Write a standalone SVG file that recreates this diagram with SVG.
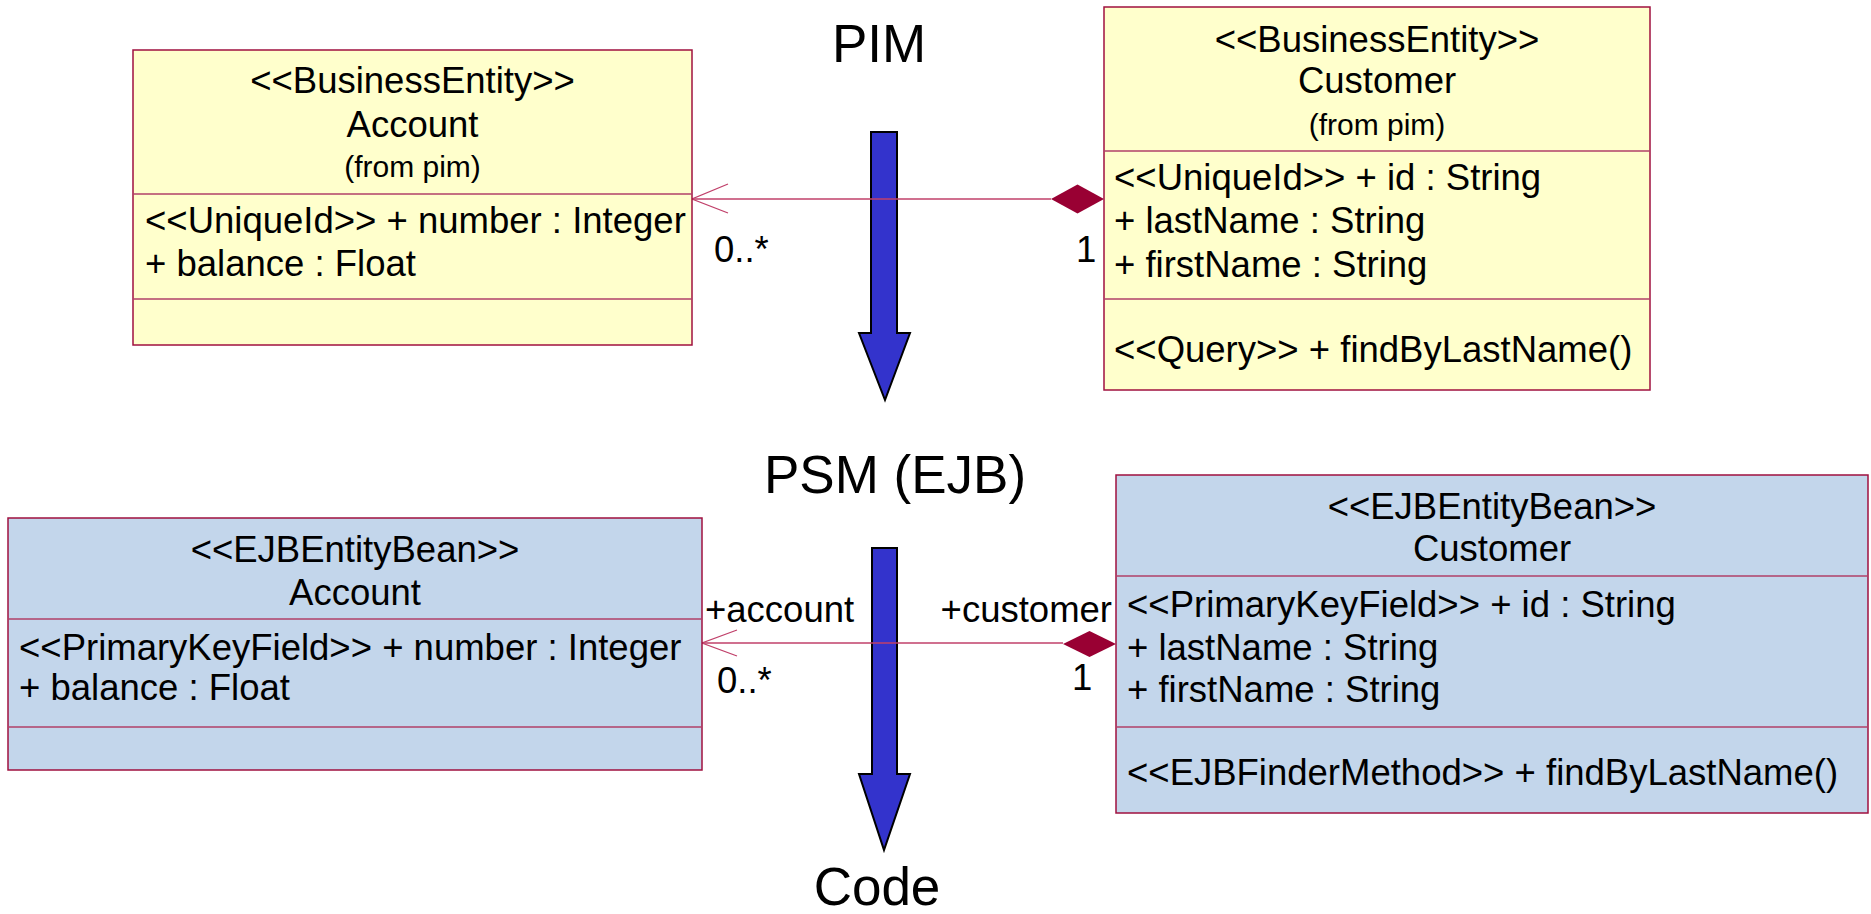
<svg xmlns="http://www.w3.org/2000/svg" width="1871" height="914" viewBox="0 0 1871 914">
  <style>
    text { font-family: "Liberation Sans", Arial, sans-serif; fill: #000; }
    .box { stroke: #A0103F; stroke-width: 1.5; }
    .pim { fill: #FFFFCC; }
    .psm { fill: #C3D6EB; }
    .sep { stroke: #B04068; stroke-width: 1.5; }
    .t { font-size: 36.5px; }
    .c { text-anchor: middle; }
    .small { font-size: 30px; text-anchor: middle; }
    .big { font-size: 53px; text-anchor: middle; }
    .assoc { stroke: #C0406A; stroke-width: 1.3; fill: none; }
    .diamond { fill: #990033; }
    .flow { fill: #3333CC; stroke: #000; stroke-width: 2; stroke-linejoin: miter; }
  </style>

  <!-- model level labels -->
  <text class="big" x="879" y="62">PIM</text>
  <text class="big" x="895" y="493">PSM (EJB)</text>
  <text class="big" x="877" y="905">Code</text>

  <!-- transformation arrows -->
  <path class="flow" d="M871,132 H897 V333 H910 L885,400 L859,333 H871 Z"/>
  <path class="flow" d="M872,548 H897 V774 H910 L884,850 L859,774 H872 Z"/>

  <!-- associations -->
  <g id="connectors">
    <path class="assoc" d="M692,199 H1051"/>
    <path class="assoc" d="M728,184 L692,199 L728,213"/>
    <path class="diamond" d="M1051,199 L1077.5,184.5 L1104,199 L1077.5,213.5 Z"/>
    <text class="t" x="714" y="262">0..*</text>
    <text class="t" x="1076" y="262">1</text>

    <path class="assoc" d="M702,643 H1063"/>
    <path class="assoc" d="M737,630 L702,643 L737,656"/>
    <path class="diamond" d="M1063,644 L1089.5,631 L1116,644 L1089.5,657 Z"/>
    <text class="t" x="705" y="622">+account</text>
    <text class="t" x="1112" y="622" text-anchor="end">+customer</text>
    <text class="t" x="717" y="693">0..*</text>
    <text class="t" x="1072" y="690">1</text>
  </g>

  <!-- PIM Account -->
  <g id="pim-account">
    <rect class="box pim" x="133" y="50" width="559" height="295"/>
    <line class="sep" x1="133" y1="194" x2="692" y2="194"/>
    <line class="sep" x1="133" y1="299" x2="692" y2="299"/>
    <text class="t c" x="412.5" y="93">&lt;&lt;BusinessEntity&gt;&gt;</text>
    <text class="t c" x="412.5" y="137">Account</text>
    <text class="small" x="412.5" y="177">(from pim)</text>
    <text class="t" x="145" y="233">&lt;&lt;UniqueId&gt;&gt; + number : Integer</text>
    <text class="t" x="145" y="276">+ balance : Float</text>
  </g>

  <!-- PIM Customer -->
  <g id="pim-customer">
    <rect class="box pim" x="1104" y="7" width="546" height="383"/>
    <line class="sep" x1="1104" y1="151" x2="1650" y2="151"/>
    <line class="sep" x1="1104" y1="299" x2="1650" y2="299"/>
    <text class="t c" x="1377" y="52">&lt;&lt;BusinessEntity&gt;&gt;</text>
    <text class="t c" x="1377" y="93">Customer</text>
    <text class="small" x="1377" y="135">(from pim)</text>
    <text class="t" x="1114" y="190">&lt;&lt;UniqueId&gt;&gt; + id : String</text>
    <text class="t" x="1114" y="233">+ lastName : String</text>
    <text class="t" x="1114" y="277">+ firstName : String</text>
    <text class="t" x="1114" y="362">&lt;&lt;Query&gt;&gt; + findByLastName()</text>
  </g>

  <!-- PSM Account -->
  <g id="psm-account">
    <rect class="box psm" x="8" y="518" width="694" height="252"/>
    <line class="sep" x1="8" y1="619" x2="702" y2="619"/>
    <line class="sep" x1="8" y1="727" x2="702" y2="727"/>
    <text class="t c" x="355" y="562">&lt;&lt;EJBEntityBean&gt;&gt;</text>
    <text class="t c" x="355" y="605">Account</text>
    <text class="t" x="19" y="660">&lt;&lt;PrimaryKeyField&gt;&gt; + number : Integer</text>
    <text class="t" x="19" y="700">+ balance : Float</text>
  </g>

  <!-- PSM Customer -->
  <g id="psm-customer">
    <rect class="box psm" x="1116" y="475" width="752" height="338"/>
    <line class="sep" x1="1116" y1="576" x2="1868" y2="576"/>
    <line class="sep" x1="1116" y1="727" x2="1868" y2="727"/>
    <text class="t c" x="1492" y="519">&lt;&lt;EJBEntityBean&gt;&gt;</text>
    <text class="t c" x="1492" y="561">Customer</text>
    <text class="t" x="1127" y="617">&lt;&lt;PrimaryKeyField&gt;&gt; + id : String</text>
    <text class="t" x="1127" y="660">+ lastName : String</text>
    <text class="t" x="1127" y="702">+ firstName : String</text>
    <text class="t" x="1127" y="785">&lt;&lt;EJBFinderMethod&gt;&gt; + findByLastName()</text>
  </g>
</svg>
